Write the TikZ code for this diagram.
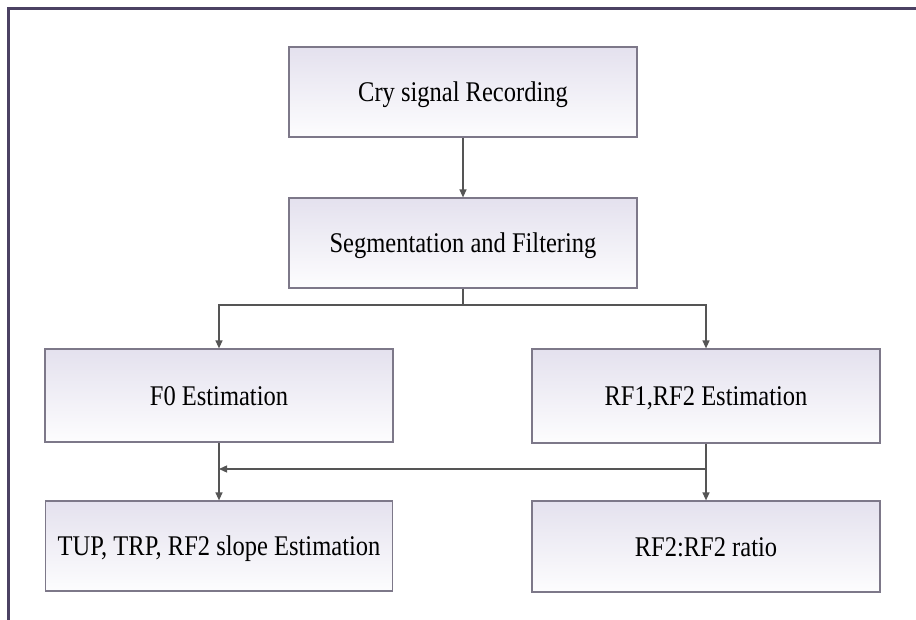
\documentclass[tikz,border=0pt]{standalone}
\usepackage{fontspec}
\setmainfont{Liberation Serif}
\usetikzlibrary{arrows.meta}
\definecolor{framecol}{HTML}{4B4163}
\definecolor{boxline}{HTML}{7D7889}
\definecolor{boxtop}{HTML}{E4E1EE}
\definecolor{boxbot}{HTML}{FDFDFE}
\definecolor{linecol}{HTML}{555555}
% box labels are set in a slightly condensed serif
\newcommand\narrowtext[1]{\scalebox{0.86}[1]{#1}}
\begin{document}
\begin{tikzpicture}[x=1pt,y=-1pt,
  stepbox/.style={rectangle, draw=boxline, line width=1.2pt,
    top color=boxtop, bottom color=boxbot,
    minimum width=348pt, minimum height=90pt, inner sep=0pt,
    text height=19pt, text depth=0pt,
    font=\fontsize{28.5}{34}\selectfont},
  arr/.style={draw=linecol, line width=1.3pt,
    -{Triangle[length=8pt,width=7pt]}},
  wire/.style={draw=linecol, line width=1.3pt}]
\useasboundingbox (0,0) rectangle (916,620);
% open frame: top and left edges only
\draw[framecol, line width=3pt] (8,620) -- (8,9) -- (916,9);

\node[stepbox] (rec) at (463,92) {\narrowtext{Cry signal Recording}};
\node[stepbox] (seg) at (463,243) {\narrowtext{Segmentation and Filtering}};
\node[stepbox, minimum height=93pt] (f0) at (219,395.5) {\narrowtext{F0 Estimation}};
\node[stepbox, minimum height=94pt] (rf) at (706,396) {\narrowtext{RF1,RF2 Estimation}};
\node[stepbox, minimum width=347pt] (tup) at (219,546) {\narrowtext{TUP, TRP, RF2 slope Estimation}};
\node[stepbox, minimum height=91pt] (ratio) at (706,546.5) {\narrowtext{RF2:RF2 ratio}};

\coordinate (split) at (463,305);
\coordinate (jr) at (706,469);
\coordinate (jl) at (219,469);

\draw[arr] (rec.south) -- (seg.north);
\draw[wire] (seg.south) -- (split);
\draw[arr] (split) -| (f0.north);
\draw[arr] (split) -| (rf.north);
\draw[arr] (f0.south) -- (tup.north);
\draw[arr] (rf.south) -- (ratio.north);
\draw[arr] (jr) -- (jl);
\end{tikzpicture}
\end{document}
